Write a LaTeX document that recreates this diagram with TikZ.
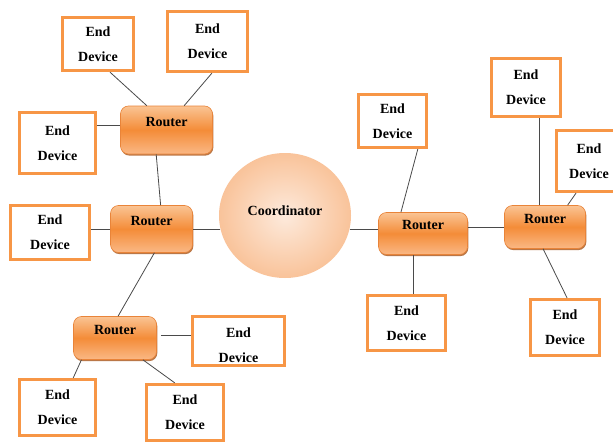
\documentclass[tikz,border=0pt]{standalone}
\usepackage{fontspec}
\setmainfont{Liberation Serif}
\usetikzlibrary{positioning}
\usetikzlibrary{shapes.geometric}
\usetikzlibrary{shadows}

\definecolor{devborder}{HTML}{F79646}
\definecolor{routertop}{HTML}{FAC494}
\definecolor{routermid}{HTML}{F48C38}
\definecolor{routerbot}{HTML}{FAB885}
\definecolor{routerline}{HTML}{E98439}
\definecolor{routershadow}{HTML}{A9561A}
\definecolor{coordin}{HTML}{FDEADC}
\definecolor{coordout}{HTML}{F9C39A}
\definecolor{linkgray}{HTML}{4A4A4A}

\begin{document}
\begin{tikzpicture}[x=1pt,y=-1pt,
  enddev/.style={draw=devborder, line width=3.2pt, fill=white, align=center, inner sep=0pt,
    font=\fontsize{14}{25}\selectfont\bfseries},
  router/.style={draw=routerline, line width=0.6pt, rounded corners=8pt,
    top color=routertop, bottom color=routerbot, middle color=routermid,
    inner sep=0pt, text height=10pt, text depth=18pt, font=\fontsize{14}{16}\selectfont\bfseries,
    drop shadow={shadow xshift=0.8pt, shadow yshift=-1.6pt, fill=routershadow, opacity=0.8}},
  coord/.style={ellipse, inner color=coordin, outer color=coordout, inner sep=0pt,
    text height=10pt, text depth=11pt, font=\fontsize{14}{16}\selectfont\bfseries},
  link/.style={draw=linkgray, line width=0.8pt}]

\useasboundingbox[fill=white] (0,0) rectangle (613,444);

\node[coord, minimum width=132pt, minimum height=125pt] (c) at (285,215.5) {Coordinator};

\node[router, minimum width=92pt, minimum height=48pt] (r1) at (166.5,130) {Router};
\node[router, minimum width=82pt, minimum height=47pt] (r2) at (151.5,229) {Router};
\node[router, minimum width=83pt, minimum height=43pt] (r3) at (115,338) {Router};
\node[router, minimum width=89pt, minimum height=42pt] (r4) at (423,233.5) {Router};
\node[router, minimum width=81pt, minimum height=43pt] (r5) at (545,227) {Router};

\node[enddev, minimum width=71pt, minimum height=53pt] (e1) at (98,44) {End\\Device};
\node[enddev, minimum width=80pt, minimum height=60pt] (e2) at (207.5,41.5) {End\\Device};
\node[enddev, minimum width=76pt, minimum height=61pt] (e3) at (57.5,143) {End\\Device};
\node[enddev, minimum width=79pt, minimum height=54pt] (e4) at (50,232.5) {End\\Device};
\node[enddev, minimum width=92pt, minimum height=49pt, text height=43pt] (e5) at (238.5,341) {End\\Device};
\node[enddev, minimum width=76pt, minimum height=56pt] (e6) at (57.5,407.5) {End\\Device};
\node[enddev, minimum width=77pt, minimum height=56pt] (e7) at (185,412.5) {End\\Device};
\node[enddev, minimum width=68pt, minimum height=53pt] (e8) at (392.5,121) {End\\Device};
\node[enddev, minimum width=78pt, minimum height=55pt] (e9) at (406.5,323) {End\\Device};
\node[enddev, minimum width=69pt, minimum height=58pt] (e10) at (526,87.5) {End\\Device};
\node[enddev, minimum width=65pt, minimum height=61pt] (e11) at (589,161) {End\\Device};
\node[enddev, minimum width=69pt, minimum height=56pt] (e12) at (565,327.5) {End\\Device};

\draw[link] (e1.-67) -- (r1.129);
\draw[link] (e2.-82) -- (r1.54);
\draw[link] (r1.174) -- (r1.174 -| e3.east);
\draw[link] (r1.-113) -- (r2.69);
\draw[link] (r2.west) -- (r2.west -| e4.east);
\draw[link] (c.192) -- (c.192 -| r2.east);
\draw[link] (c.-12) -- (c.-12 -| r4.west);
\draw[link] (r2.-83) -- (r3.82);
\draw[link, shorten <=4pt] (r3.4) -- (r3.4 -| e5.west);
\draw[link] (r3.-147) -- (e6.62);
\draw[link] (r3.-38) -- (e7.109);
\draw[link] (e8.-48) -- (r4.136);
\draw[link] (r4.-115) -- (r4.-115 |- e9.north);
\draw[link] (r5.west) -- (r5.west -| r4.east);
\draw[link] (r5.105) -- (r5.105 |- e10.south);
\draw[link] (e11.-112) -- (r5.44);
\draw[link] (r5.-95) -- (e12.86);
\end{tikzpicture}
\end{document}
